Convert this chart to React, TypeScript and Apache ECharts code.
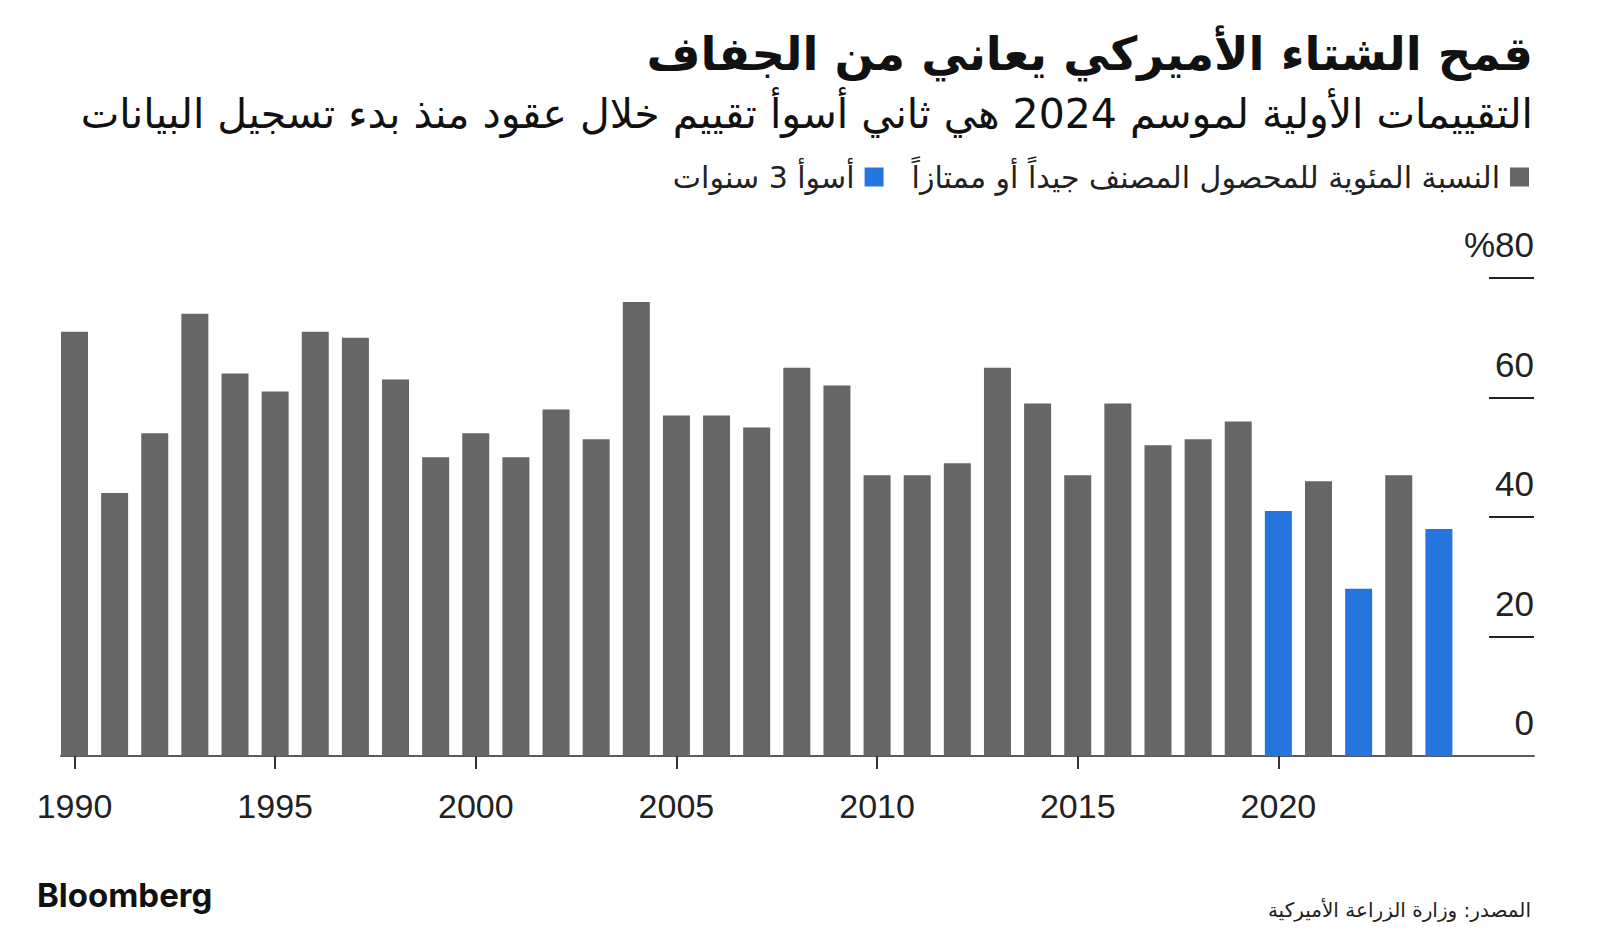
import React, { useEffect, useRef } from "react";
import * as echarts from "echarts";

const TITLE = "قمح الشتاء الأميركي يعاني من الجفاف";
const SUBTITLE = "التقييمات الأولية لموسم 2024 هي ثاني أسوأ تقييم خلال عقود منذ بدء تسجيل البيانات";
const LEGEND_MAIN = "النسبة المئوية للمحصول المصنف جيداً أو ممتازاً";
const LEGEND_WORST = "أسوأ 3 سنوات";
const SOURCE = "المصدر: وزارة الزراعة الأميركية";
const BRAND = "Bloomberg";

const years = [
  1990, 1991, 1992, 1993, 1994, 1995, 1996, 1997, 1998, 1999,
  2000, 2001, 2002, 2003, 2004, 2005, 2006, 2007, 2008, 2009,
  2010, 2011, 2012, 2013, 2014, 2015, 2016, 2017, 2018, 2019,
  2020, 2021, 2022, 2023, 2024,
];
const goodExcellentPct = [
  71, 44, 54, 74, 64, 61, 71, 70, 63, 50,
  54, 50, 58, 53, 76, 57, 57, 55, 65, 62,
  47, 47, 49, 65, 59, 47, 59, 52, 53, 56,
  41, 46, 28, 47, 38,
];
const worstYears = [2020, 2022, 2024];
const xTickYears = [1990, 1995, 2000, 2005, 2010, 2015, 2020];
const yTickLines = [20, 40, 60, 80];

const GRAY = "#666666";
const BLUE = "#2476de";
const INK = "#222222";

export default function App() {
  const ref = useRef<HTMLDivElement>(null);

  useEffect(() => {
    if (!ref.current) return;
    const chart = echarts.init(ref.current, undefined, { renderer: "svg" });

    const grayData = years
      .map((y, i) => [y, goodExcellentPct[i]])
      .filter((d) => !worstYears.includes(d[0] as number));
    const blueData = years
      .map((y, i) => [y, goodExcellentPct[i]])
      .filter((d) => worstYears.includes(d[0] as number));

    chart.setOption({
      animation: false,
      backgroundColor: "#ffffff",
      title: [
        {
          text: TITLE,
          right: 62,
          top: 25,
          textStyle: {
            fontFamily: "DejaVu Sans",
            fontWeight: "bold",
            fontSize: 46.5,
            color: "#111111",
          },
        },
        {
          text: SUBTITLE,
          right: 62,
          top: 88,
          textStyle: {
            fontFamily: "DejaVu Sans",
            fontWeight: "normal",
            fontSize: 41,
            color: "#111111",
          },
        },
        {
          text: SOURCE,
          right: 64,
          top: 895,
          textStyle: {
            fontFamily: "DejaVu Sans",
            fontWeight: "normal",
            fontSize: 20,
            color: INK,
          },
        },
        {
          text: BRAND,
          left: 32,
          top: 873,
          textStyle: {
            fontFamily: "Inter",
            fontWeight: "bold",
            fontSize: 33,
            color: "#111111",
          },
        },
      ],
      legend: {
        right: 66,
        top: 157,
        align: "right",
        itemWidth: 19,
        itemHeight: 19,
        itemGap: 28,
        icon: "rect",
        data: [LEGEND_WORST, LEGEND_MAIN],
        textStyle: {
          fontFamily: "DejaVu Sans",
          fontSize: 30,
          color: INK,
          padding: [0, 5, 0, 0],
        },
      },
      grid: { left: 61, right: 66, top: 278, bottom: 194 },
      xAxis: {
        type: "value",
        min: 1989.664,
        max: 2026.37,
        splitLine: { show: false },
        axisLine: { show: true, lineStyle: { color: "#5a5a5a", width: 2 } },
        axisTick: {
          show: true,
          customValues: xTickYears,
          length: 13,
          lineStyle: { color: "#333333", width: 2 },
        },
        axisLabel: {
          customValues: xTickYears,
          margin: 33,
          fontFamily: "Liberation Sans",
          fontSize: 34,
          color: INK,
          formatter: (v: number) => String(v),
        },
      },
      yAxis: {
        type: "value",
        position: "right",
        min: 0,
        max: 80,
        interval: 20,
        splitLine: { show: false },
        axisLine: { show: false },
        axisTick: {
          show: true,
          inside: true,
          length: 45,
          customValues: yTickLines,
          lineStyle: { color: INK, width: 2 },
        },
        axisLabel: {
          inside: true,
          margin: 0,
          verticalAlign: "bottom",
          padding: [0, 0, 16, 0],
          fontFamily: "Liberation Sans",
          fontSize: 35,
          color: INK,
          formatter: (v: number) => (v === 80 ? "%" + v : String(v)),
        },
      },
      series: [
        {
          name: LEGEND_MAIN,
          type: "bar",
          data: grayData,
          barWidth: 27,
          barGap: "-100%",
          itemStyle: { color: GRAY },
        },
        {
          name: LEGEND_WORST,
          type: "bar",
          data: blueData,
          barWidth: 27,
          barGap: "-100%",
          itemStyle: { color: BLUE },
        },
      ],
    });

    return () => chart.dispose();
  }, []);

  return (
    <div
      ref={ref}
      style={{ position: "fixed", left: 0, top: 0, width: 1600, height: 950 }}
    />
  );
}
